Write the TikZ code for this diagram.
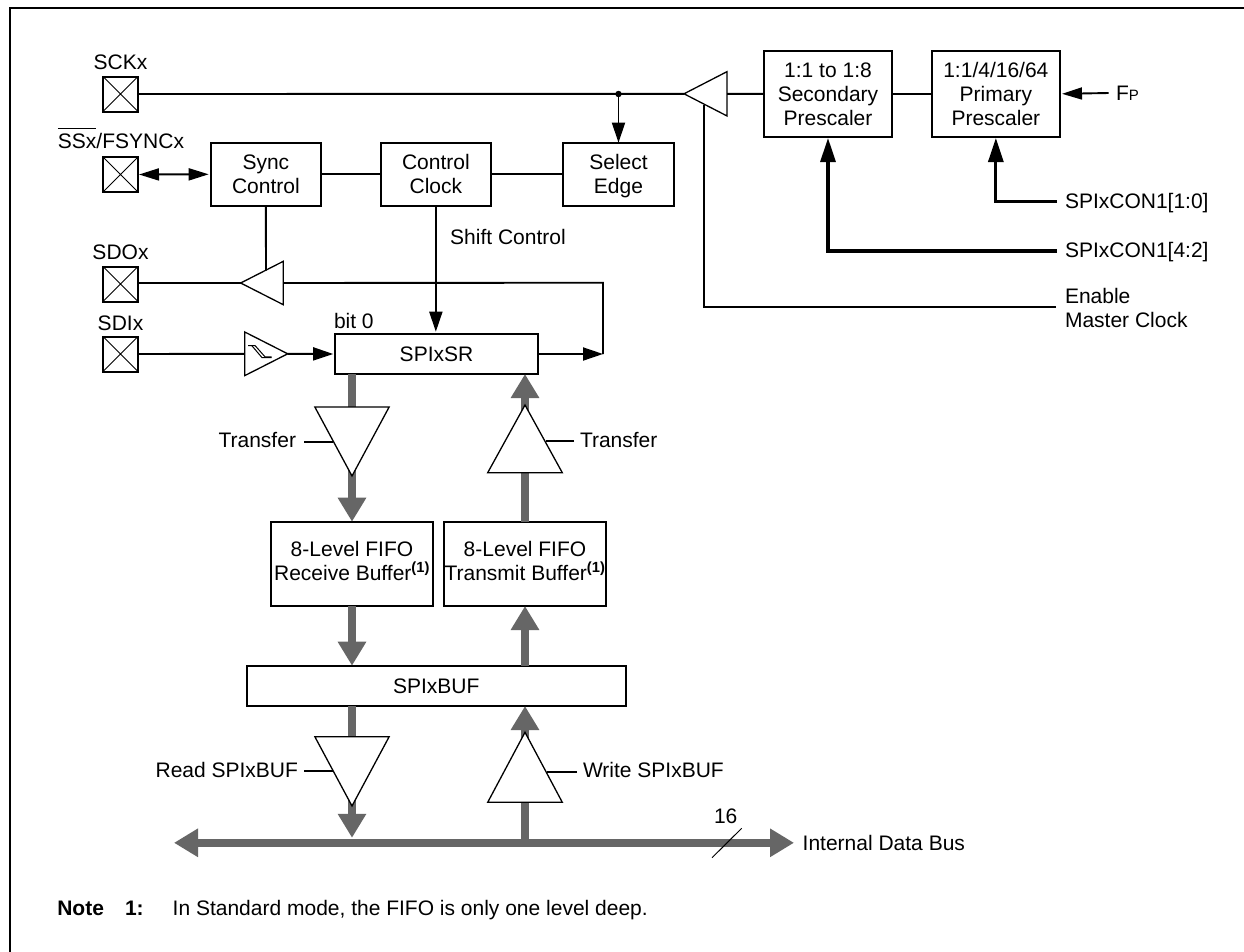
\documentclass[tikz,border=0pt]{standalone}
\usepackage{fontspec}
\setmainfont{Liberation Sans}
\usetikzlibrary{arrows.meta,shapes.geometric,calc}
\newcommand{\ovlbar}[1]{\setbox0\hbox{#1}\rlap{\rule[19pt]{\wd0}{1.4pt}}\box0}
\definecolor{busgray}{HTML}{666666}
\tikzset{
  txt/.style={font=\fontsize{21}{24}\selectfont,inner sep=0pt,outer sep=0pt,align=center},
  box/.style={draw,line width=2pt,fill=white,inner sep=0pt,outer sep=0pt,align=center,font=\fontsize{21}{24}\selectfont,minimum width=#1},
  pin/.style={draw,line width=2pt,fill=white,minimum width=35pt,minimum height=35pt,inner sep=0pt,outer sep=0pt,
    path picture={\draw[line width=1pt] (path picture bounding box.north west)--(path picture bounding box.south east)
      (path picture bounding box.north east)--(path picture bounding box.south west);}},
  tri/.style={draw,line width=1.3pt,fill=white,isosceles triangle,isosceles triangle stretches,inner sep=0pt,outer sep=0pt,anchor=apex,line join=miter},
  wire/.style={line width=1.9pt},
  ctl/.style={line width=3.1pt},
  arr/.style={-{Triangle[length=20pt,width=13pt]}},
  arrb/.style={-{Triangle[length=24pt,width=15pt]}},
  bus/.style={line width=8pt,color=busgray},
  busarr/.style={bus,-{Triangle[length=24pt,width=27pt]}},
}
\begin{document}
\begin{tikzpicture}[x=1pt,y=-1pt]
\useasboundingbox (0,0) rectangle (1244,951);
\fill[white] (0,0) rectangle (1244,951);
\draw[line width=2.2pt] (10,956) -- (10,7.8) -- (1249,7.8);
% boxes
\node[box=110.3,minimum height=63.3] (sync) at (265.85,174.3) {Sync\\Control};
\node[box=110.3,minimum height=63.3] (clock) at (435.85,174.3) {Control\\Clock};
\node[box=110.3,minimum height=63.3,text depth=0pt] (edge) at (618.5,174.3) {Select\\Edge};
\node[box=128,minimum height=86.3] (sec) at (828,93.85) {1:1 to 1:8\\Secondary\\Prescaler};
\node[box=128.3,minimum height=86.3] (pri) at (995.85,93.85) {1:1/4/16/64\\Primary\\Prescaler};
\node[box=203.6,minimum height=40] (sr) at (436.5,354) {SPIxSR};
\node[box=162.6,minimum height=84.3,text depth=6pt] (rx) at (352,563.85) {8-Level FIFO\\Receive Buffer\textsuperscript{\textbf{(1)}}};
\node[box=162.6,minimum height=84.3,text depth=6pt] (tx) at (525,563.85) {8-Level FIFO\\Transmit Buffer\textsuperscript{\textbf{(1)}}};
\node[box=379.3,minimum height=40.3] (buf) at (436.3,685.85) {SPIxBUF};
% pins
\node[pin] (sck) at (120.5,94) {};
\node[pin] (ss) at (120.5,174.5) {};
\node[pin] (sdo) at (120.5,284) {};
\node[pin] (sdi) at (120.5,354) {};
\node[txt,anchor=base] (lsck) at (120.5,69) {SCKx};
\node[txt,anchor=base east] (lss) at (184,148.3) {\ovlbar{SSx}/FSYNCx};
\node[txt,anchor=base] (lsdo) at (120.5,259) {SDOx};
\node[txt,anchor=base] (lsdi) at (120.5,330.7) {SDIx};
% free ends
\coordinate (busL) at (174,842.8);
\coordinate (busR) at (794,842.8);
\coordinate (busRx) at (352,842.8);
\coordinate (busTx) at (525,842.8);
\coordinate (turn) at (603,282.7);
\coordinate (srout) at (603,354);
\coordinate (j) at (618.5,94);
% grey data paths
\draw[busarr] (sr.south -| rx.north) -- (rx.north);
\draw[busarr] (tx.north) -- (sr.south -| tx.north);
\draw[busarr] (rx.south) -- (buf.north -| rx.south);
\draw[busarr] (buf.north -| tx.south) -- (tx.south);
\draw[busarr,shorten >=5pt] (buf.south -| rx.south) -- (busRx);
\draw[busarr] (busTx) -- (buf.south -| tx.south);
\draw[bus,{Triangle[length=24pt,width=27pt]}-{Triangle[length=24pt,width=27pt]}] (busL) -- (busR);
% three-state buffers
\node[tri,minimum height=69,minimum width=74.3,rotate=-90] (t1) at (352,476) {};
\node[tri,minimum height=67.7,minimum width=74.6,rotate=90] (t2) at (525,405) {};
\node[tri,minimum height=69.3,minimum width=74.3,rotate=-90] (t3) at (352,806) {};
\node[tri,minimum height=70,minimum width=74.6,rotate=90] (t4) at (525,732.3) {};
\node[tri,minimum height=43,minimum width=44.3,rotate=180] (b1) at (684,93.8) {};
\node[tri,minimum height=42.6,minimum width=43.4,rotate=180] (b2) at (240.7,283) {};
\node[tri,minimum height=43,minimum width=43.7] (b3) at (287.7,353.8) {};
% hysteresis glyph
\draw[line width=1pt] (248,345.5)--(255,345.5)--(265,356.8)--(271.7,356.8);
\draw[line width=1pt] (251.7,345.5)--(262,357.6)--(271.7,357.6);
% wires
\draw[wire] (sck.east) -- (b1.apex);
\draw[wire] (b1.lower side) -- (sec.west);
\draw[wire] (sec.east) -- (pri.west);
\fill (j) circle (3.2pt);
\draw[wire,arr] (j) -- (edge.north);
\draw[wire,{Triangle[length=20pt,width=12pt]}-{Triangle[length=20pt,width=12pt]},shorten <=1pt,shorten >=2pt] (ss.east) -- (sync.west);
\draw[wire] (sync.east) -- (clock.west);
\draw[wire] (clock.east) -- (edge.west);
\draw[wire] (sync.south) -- (266,270.5);
\draw[wire] (sdo.east |- b2.apex) -- (b2.apex);
\draw[wire] (b2.lower side) -- (turn) -- (srout);
\draw[wire,arr] (sr.east) -- (srout);
\draw[wire,arr,shorten >=2.3pt] (clock.south) -- (sr.north -| clock.south);
\draw[wire] (sdi.east) -- (b3.lower side);
\draw[wire,arr,shorten >=1.5pt] (b3.apex) -- (sr.west);
% control inputs
\node[txt,anchor=west] (lfp) at (1116,93) {F{\fontsize{15}{15}\selectfont P}};
\draw[wire,{Triangle[length=20pt,width=12pt]}-,shorten <=2pt] (pri.east) -- (1108.7,93);
\node[txt,anchor=base west] (lc10) at (1065,208.5) {SPIxCON1[1:0]};
\node[txt,anchor=base west] (lc42) at (1065,257.5) {SPIxCON1[4:2]};
\coordinate (c10) at (1057,201.3);
\coordinate (c42) at (1057,251);
\coordinate (cen) at (1056,306.7);
\draw[ctl,arrb,shorten >=1pt] (c10) -| (pri.south);
\draw[ctl,arrb,shorten >=1pt] (c42) -| (sec.south);
\draw[wire] (cen) -| (704,104.5);
\node[txt,anchor=north west,align=left] (len) at (1065,288) {Enable\\Master Clock};
\node[txt,anchor=base] (lshift) at (508,244) {Shift Control};
\node[txt,anchor=base west] (lbit) at (334,328) {bit 0};
% buffer enables
\node[txt,anchor=base east] (ltr1) at (296,447.5) {Transfer};
\node[txt,anchor=base west] (ltr2) at (580,447.5) {Transfer};
\node[txt,anchor=base east] (lrd) at (298,777.5) {Read SPIxBUF};
\node[txt,anchor=base west] (lwr) at (583,777.5) {Write SPIxBUF};
\draw[wire] (ltr1.east |- 0,441.7) ++(8,0) -- ++(29,0);
\draw[wire] (ltr2.west |- 0,440.7) ++(-6,0) -- ++(-28,0);
\draw[wire] (lrd.east |- 0,771) ++(6,0) -- ++(29,0);
\draw[wire] (lwr.west |- 0,771.7) ++(-6,0) -- ++(-30,0);
% bus width
\draw[line width=1pt] (712,857.7) -- (741.7,828.3);
\node[txt] (l16) at (725.7,816.7) {16};
\node[txt,anchor=base west] (lbus) at (802.7,850.5) {Internal Data Bus};
% note
\node[txt,anchor=base west] (n1) at (57.3,915) {\bfseries Note};
\node[txt,anchor=base west] (n2) at (125,915) {\bfseries 1:};
\node[txt,anchor=base west] (n3) at (172.7,915) {In Standard mode, the FIFO is only one level deep.};
\end{tikzpicture}
\end{document}
